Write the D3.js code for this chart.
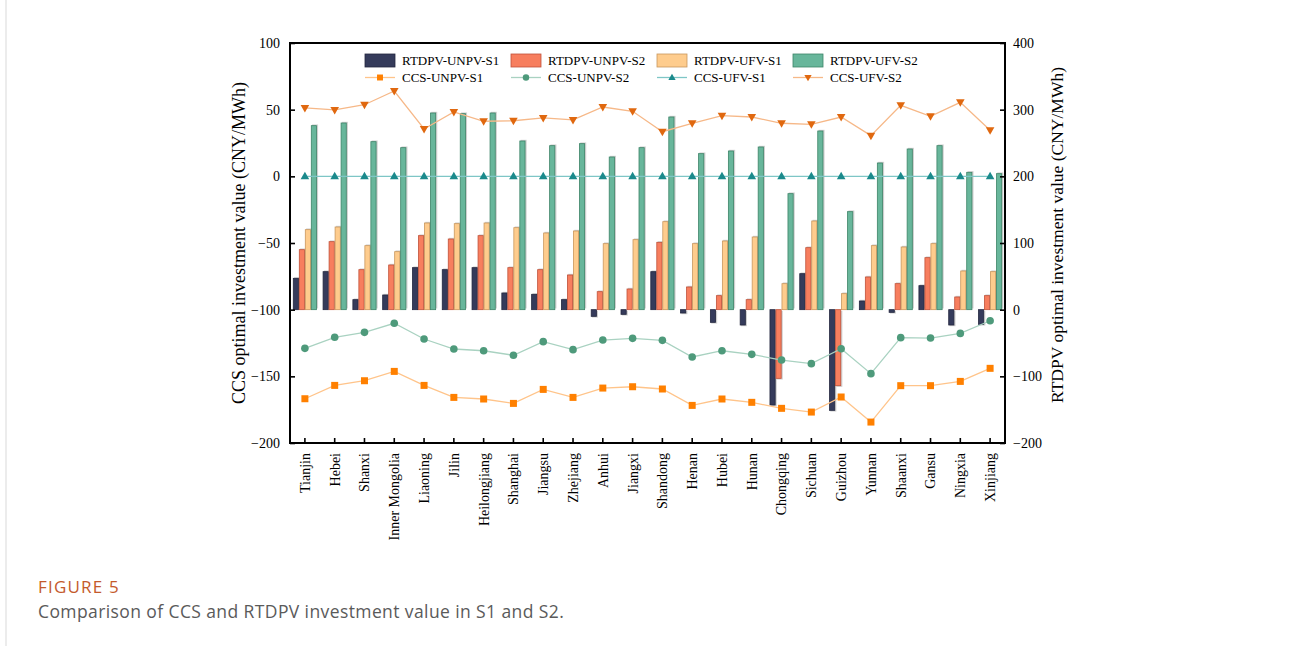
<!DOCTYPE html>
<html><head><meta charset="utf-8">
<script src="https://cdn.jsdelivr.net/npm/d3@7/dist/d3.min.js"></script>
<style>body{margin:0;background:#fff;} svg{display:block;}</style>
</head><body>
<svg id="c" width="1289" height="646"></svg>
<script>
const categories = ["Tianjin","Hebei","Shanxi","Inner Mongolia","Liaoning","Jilin","Heilongjiang","Shanghai","Jiangsu","Zhejiang","Anhui","Jiangxi","Shandong","Henan","Hubei","Hunan","Chongqing","Sichuan","Guizhou","Yunnan","Shaanxi","Gansu","Ningxia","Xinjiang"];

// RTDPV (right axis)
const rtdpvUnpvS1 = [47,57,15,22,63,60,63,25,23,15,-10,-7,57,-5,-19,-23,-143,54,-151,13,-4,36,-23,-22];
const rtdpvUnpvS2 = [90,102,60,67,111,106,111,63,60,52,27,31,101,34,21,15,-103,93,-114,49,39,78,19,21];
const rtdpvUfvS1  = [120,124,96,87,130,129,130,123,115,118,99,105,132,99,103,109,39,133,24,96,94,99,58,57];
const rtdpvUfvS2  = [276,280,252,243,295,294,295,253,246,249,229,243,289,234,238,244,174,268,147,220,241,246,206,204];

// CCS (left axis)
const ccsUnpvS1 = [-166.8,-156.8,-153.3,-146.3,-156.8,-165.8,-167,-170.3,-159.8,-165.8,-158.8,-157.8,-159.5,-171.8,-167,-169.5,-174,-176.8,-165.5,-184.3,-157,-157,-153.8,-144];
const ccsUnpvS2 = [-129,-120.7,-117,-110.2,-122,-129.5,-130.8,-134.2,-124,-130,-122.8,-121.5,-123,-135.5,-130.8,-133.5,-137.8,-140.5,-129.3,-148,-121,-121.3,-117.8,-108.3];
const ccsUfvS1  = [0,0,0,0,0,0,0,0,0,0,0,0,0,0,0,0,0,0,0,0,0,0,0,0];
const ccsUfvS2  = [51.3,49.8,53.7,64,35.5,48.3,41.3,41.7,43.8,42.3,52,48.8,33.5,39.8,45.5,44.5,39.8,39,44.5,30.5,53.3,45,55.5,34.5];

const leftTicks = [100,50,0,-50,-100,-150,-200];
const rightTicks = [400,300,200,100,0,-100,-200];

const barSeries = [
  {name:"RTDPV-UNPV-S1", values: rtdpvUnpvS1, fill:"#353b5b", stroke:"#23273f"},
  {name:"RTDPV-UNPV-S2", values: rtdpvUnpvS2, fill:"#f77e5e", stroke:"#c0523a"},
  {name:"RTDPV-UFV-S1",  values: rtdpvUfvS1,  fill:"#fecc8d", stroke:"#c9975d"},
  {name:"RTDPV-UFV-S2",  values: rtdpvUfvS2,  fill:"#68b69b", stroke:"#3d8468"}
];
const lineSeries = [
  {name:"CCS-UNPV-S1", values: ccsUnpvS1, marker:"square", color:"#ff8000", line:"#ffc48a"},
  {name:"CCS-UNPV-S2", values: ccsUnpvS2, marker:"circle", color:"#4e9a7b", line:"#a9d2c1"},
  {name:"CCS-UFV-S1",  values: ccsUfvS1,  marker:"triangle", color:"#1b8a8c", line:"#7ec6c6"},
  {name:"CCS-UFV-S2",  values: ccsUfvS2,  marker:"triangleDown", color:"#e0680f", line:"#f6b888"}
];

const L = 290, R = 1005, T = 43, B = 443;
const svg = d3.select("#c");
const serif = "'Liberation Serif','Times New Roman',serif";

const x = d3.scaleBand().domain(categories).range([L, R]).padding(0);
const yL = d3.scaleLinear().domain([-200, 100]).range([B, T]);
const yR = d3.scaleLinear().domain([-200, 400]).range([B, T]);
const sub = d3.scaleBand().domain(barSeries.map(s => s.name)).range([-12, 12]).padding(0);
const cx = c => x(c) + x.bandwidth() / 2;

// bars with shadow
const bw = sub.bandwidth();
barSeries.forEach(s => {
  const g = svg.append("g");
  s.values.forEach((v, i) => {
    const x0 = cx(categories[i]) + sub(s.name);
    const y0 = Math.min(yR(v), yR(0)), h = Math.abs(yR(v) - yR(0));
    g.append("rect").attr("x", x0 + 1.2).attr("y", y0 - (v >= 0 ? 1.2 : -1.2)).attr("width", bw).attr("height", h)
      .attr("fill", "#cfcfcf");
  });
});
barSeries.forEach(s => {
  const g = svg.append("g");
  s.values.forEach((v, i) => {
    const x0 = cx(categories[i]) + sub(s.name);
    const y0 = Math.min(yR(v), yR(0)), h = Math.abs(yR(v) - yR(0));
    g.append("rect").attr("x", x0 + 0.4).attr("y", y0).attr("width", bw - 0.8).attr("height", h)
      .attr("fill", s.fill).attr("stroke", s.stroke).attr("stroke-width", 0.8);
  });
});

function marker(g, type, px, py, color, size) {
  const sz = size || 1;
  if (type === "square") g.append("rect").attr("x", px - 3.5*sz).attr("y", py - 3.5*sz).attr("width", 7*sz).attr("height", 7*sz).attr("fill", color);
  else if (type === "circle") g.append("circle").attr("cx", px).attr("cy", py).attr("r", 3.8*sz).attr("fill", color);
  else if (type === "triangle") g.append("path").attr("d", `M${px},${py-4.5*sz}L${px+4.3*sz},${py+3*sz}L${px-4.3*sz},${py+3*sz}Z`).attr("fill", color);
  else g.append("path").attr("d", `M${px},${py+4.5*sz}L${px+4.3*sz},${py-3*sz}L${px-4.3*sz},${py-3*sz}Z`).attr("fill", color);
}

lineSeries.forEach(s => {
  const g = svg.append("g");
  const line = d3.line().x((d, i) => cx(categories[i])).y(d => yL(d));
  g.append("path").attr("d", line(s.values)).attr("fill", "none").attr("stroke", s.line).attr("stroke-width", 1.3);
  s.values.forEach((v, i) => marker(g, s.marker, cx(categories[i]), yL(v), s.color));
});

// axes
const axL = svg.append("g").attr("transform", `translate(${L},0)`)
  .call(d3.axisLeft(yL).tickValues(leftTicks).tickSize(-5).tickPadding(8).tickFormat(d => d < 0 ? "\u2212" + Math.abs(d) : d));
const axR = svg.append("g").attr("transform", `translate(${R},0)`)
  .call(d3.axisRight(yR).tickValues(rightTicks).tickSize(-5).tickPadding(8).tickFormat(d => d < 0 ? "\u2212" + Math.abs(d) : d));
const axB = svg.append("g").attr("transform", `translate(0,${B})`)
  .call(d3.axisBottom(x).tickSize(-5).tickPadding(8));
[axL, axR, axB].forEach(a => {
  a.select(".domain").remove();
  a.selectAll(".tick line").attr("stroke", "#000").attr("stroke-width", 1.6);
  a.selectAll("text").attr("font-family", serif).attr("font-size", 14).attr("fill", "#000");
});
axL.selectAll("text").attr("dx", -2);
axB.selectAll("text").attr("transform", "rotate(-90)").attr("text-anchor", "end")
  .attr("x", -10).attr("y", 0).attr("dy", "0.35em");

svg.append("rect").attr("x", L).attr("y", T).attr("width", R - L).attr("height", B - T)
  .attr("fill", "none").attr("stroke", "#000").attr("stroke-width", 2);

// axis titles
svg.append("text").attr("transform", `translate(245,${(T+B)/2}) rotate(-90)`).attr("text-anchor", "middle")
  .attr("font-family", serif).attr("font-size", 18).text("CCS optimal investment value (CNY/MWh)");
svg.append("text").attr("transform", `translate(1063,${(T+B)/2 - 8}) rotate(-90)`).attr("text-anchor", "middle")
  .attr("font-family", serif).attr("font-size", 17.5).text("RTDPV optimal investment value (CNY/MWh)");

// legend
const legX = [365, 511, 657, 793];
const lg = svg.append("g");
barSeries.forEach((s, i) => {
  lg.append("rect").attr("x", legX[i]).attr("y", 54).attr("width", 30).attr("height", 13)
    .attr("fill", s.fill).attr("stroke", s.stroke).attr("stroke-width", 0.8);
  lg.append("text").attr("x", legX[i] + 37).attr("y", 65).attr("font-family", serif).attr("font-size", 13).text(s.name);
});
lineSeries.forEach((s, i) => {
  lg.append("line").attr("x1", legX[i]).attr("x2", legX[i] + 30).attr("y1", 77.5).attr("y2", 77.5)
    .attr("stroke", s.line).attr("stroke-width", 1.3);
  marker(lg, s.marker, legX[i] + 15, 77.5, s.color, 0.85);
  lg.append("text").attr("x", legX[i] + 37).attr("y", 82).attr("font-family", serif).attr("font-size", 13).text(s.name);
});

// figure caption
svg.append("line").attr("x1", 6).attr("x2", 6).attr("y1", 0).attr("y2", 646).attr("stroke", "#d9d9d9").attr("stroke-width", 1);
svg.append("text").attr("x", 38).attr("y", 593).attr("font-family", "'Open Sans','Noto Sans',sans-serif")
  .attr("font-size", 17).attr("letter-spacing", 1.2).attr("fill", "#c45a2c").text("FIGURE 5");
svg.append("text").attr("x", 38).attr("y", 618).attr("font-family", "'Open Sans','Noto Sans',sans-serif")
  .attr("font-size", 17.5).attr("letter-spacing", 0.4).attr("fill", "#5a5a5a").text("Comparison of CCS and RTDPV investment value in S1 and S2.");
</script>
</body></html>
